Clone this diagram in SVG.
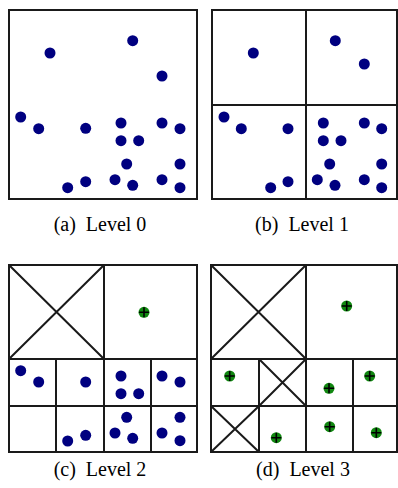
<svg xmlns="http://www.w3.org/2000/svg" width="398" height="488" viewBox="0 0 398 488">
<style>
.frame{fill:#fff;stroke:#1a1a1a;stroke-width:2}
.ln{stroke:#1a1a1a;stroke-width:2;fill:none}
.dot{fill:#000080}
.g{fill:#118811}
.cr{stroke:#000;stroke-width:1.6}
.cap{font-family:"Liberation Serif",serif;font-size:20px;fill:#000;text-anchor:middle;white-space:pre}
</style>
<defs>
<circle id="d" r="5.5" class="dot"/>
<g id="gm"><circle r="5.5" class="g"/><path d="M-5,0H5M0,-5V5" class="cr"/></g>
</defs>
<rect width="398" height="488" fill="#fff"/>

<g id="panel-a">
<rect x="9" y="10" width="188" height="189" class="frame"/>
<use href="#d" x="50" y="53"/><use href="#d" x="132.7" y="40.7"/><use href="#d" x="162" y="76"/>
<use href="#d" x="20.7" y="117"/><use href="#d" x="38.7" y="128.7"/><use href="#d" x="85.7" y="128.3"/>
<use href="#d" x="121" y="123"/><use href="#d" x="162" y="123"/><use href="#d" x="180" y="128.7"/>
<use href="#d" x="121" y="140.7"/><use href="#d" x="138.7" y="140.7"/><use href="#d" x="126.7" y="164"/>
<use href="#d" x="180" y="164"/><use href="#d" x="67.7" y="187.7"/><use href="#d" x="85.7" y="181.7"/>
<use href="#d" x="115" y="179.7"/><use href="#d" x="132.7" y="185.3"/><use href="#d" x="162" y="179.7"/>
<use href="#d" x="180" y="187.7"/>
<text x="100" y="231" class="cap" xml:space="preserve">(a)  Level 0</text>
</g>

<g id="panel-b">
<rect x="212" y="10" width="185" height="189" class="frame"/>
<path d="M306,10V199M212,105H397" class="ln"/>
<use href="#d" x="253.3" y="53"/><use href="#d" x="335.3" y="40.7"/><use href="#d" x="364.3" y="64"/>
<use href="#d" x="224" y="117"/><use href="#d" x="241.3" y="128.7"/><use href="#d" x="288" y="128.7"/>
<use href="#d" x="323.3" y="123"/><use href="#d" x="364.3" y="123"/><use href="#d" x="381.7" y="128.7"/>
<use href="#d" x="323.3" y="140.7"/><use href="#d" x="341" y="140.7"/><use href="#d" x="329.7" y="164"/>
<use href="#d" x="381.7" y="164"/><use href="#d" x="270.7" y="187.7"/><use href="#d" x="288" y="181.7"/>
<use href="#d" x="317.3" y="179.7"/><use href="#d" x="335" y="185.3"/><use href="#d" x="364.3" y="179.7"/>
<use href="#d" x="381.7" y="187.7"/>
<text x="302" y="231" class="cap" xml:space="preserve">(b)  Level 1</text>
</g>

<g id="panel-c">
<rect x="9" y="265" width="188" height="187" class="frame"/>
<path d="M104,265V452M9,359H197M56,359V452M151,359V452M9,406H197M9,265L104,359M104,265L9,359" class="ln"/>
<use href="#gm" x="144" y="312.3"/>
<use href="#d" x="20.7" y="370.7"/><use href="#d" x="38.7" y="382"/><use href="#d" x="85.7" y="382"/>
<use href="#d" x="121" y="376"/><use href="#d" x="162" y="376"/><use href="#d" x="180" y="382"/>
<use href="#d" x="121" y="393.7"/><use href="#d" x="138.7" y="393.7"/><use href="#d" x="126.7" y="417.3"/>
<use href="#d" x="180" y="417.3"/><use href="#d" x="67.7" y="441"/><use href="#d" x="85.7" y="435.3"/>
<use href="#d" x="115" y="433"/><use href="#d" x="132.7" y="438.3"/><use href="#d" x="162" y="433"/>
<use href="#d" x="180" y="440.7"/>
<text x="100" y="476" class="cap" xml:space="preserve">(c)  Level 2</text>
</g>

<g id="panel-d">
<rect x="211" y="265" width="186" height="187" class="frame"/>
<path d="M306,265V452M211,359H397M259,359V452M353,359V452M211,406H397M211,265L306,359M306,265L211,359M259,359L306,406M306,359L259,406M211,406L259,452M259,406L211,452" class="ln"/>
<use href="#gm" x="346.7" y="306"/><use href="#gm" x="229.7" y="376"/><use href="#gm" x="329" y="388.3"/>
<use href="#gm" x="369.7" y="376"/><use href="#gm" x="276.3" y="437.7"/><use href="#gm" x="329.7" y="426.7"/>
<use href="#gm" x="376.3" y="432.7"/>
<text x="303" y="476" class="cap" xml:space="preserve">(d)  Level 3</text>
</g>
</svg>
